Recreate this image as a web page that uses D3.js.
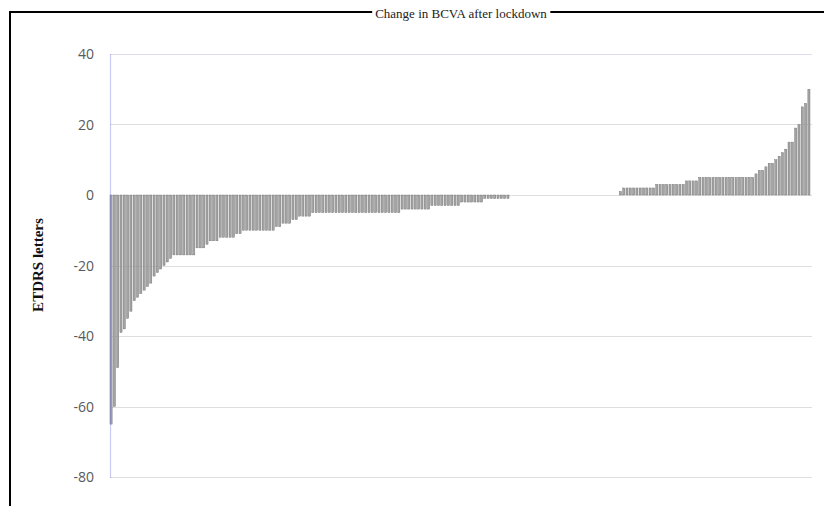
<!DOCTYPE html>
<html>
<head>
<meta charset="utf-8">
<script src="https://cdn.jsdelivr.net/npm/d3@7"></script>
<style>
  body { margin: 0; background: #fff; }
  svg { display: block; }
</style>
</head>
<body>
<svg width="824" height="506"></svg>
<script>
/*
    Change in BCVA after lockdown - sorted waterfall of eyes
*/

// runs of [value, how many eyes], sorted from worst to best
var negRuns = [
	[-65,1],[-60,1],[-49,1],[-39,1],[-38,1],[-35,1],[-33,1],[-30,1],[-29,1],[-28,1],
	[-27,1],[-26,1],[-25,1],[-23,1],[-22,1],[-21,1],[-20,1],[-19,1],[-18,1],[-17,7],
	[-15,3],[-14,1],[-13,3],[-12,5],[-11,2],[-10,10],[-9,2],[-8,3],[-7,2],[-6,4],
	[-5,27],[-4,9],[-3,9],[-2,7],[-1,8]
];
var zeroRuns = [[0,33]];
var posRuns = [
	[1,1],[2,10],[3,9],[4,4],[5,17],[6,1],[7,2],[8,1],[9,2],[10,1],[11,1],[12,1],
	[13,1],[15,2],[19,1],[20,1],[25,1],[26,1],[30,1]
];
var yTicks = [40, 20, 0, -20, -40, -60, -80];
var title = 'Change in BCVA after lockdown';
var yTitle = 'ETDRS letters';

var values = [];
function unroll(runs) {
	runs.forEach(function(r) {
		for (var k = 0; k < r[1]; k++) values.push(r[0]);
	});
}
unroll(negRuns);
unroll(zeroRuns);
unroll(posRuns);

var eyes = values.map(function(v, i){return {i:i, v:v};});

var svg = d3.select('svg');

// outer frame, cut off at the right and bottom like the picture
svg.append('rect')
	.attr('x', 10).attr('y', 12)
	.attr('width', 830).attr('height', 520)
	.style('fill', 'none')
	.style('stroke', '#000')
	.style('stroke-width', 2);

var x = d3.scaleBand()
	.domain(d3.range(values.length))
	.range([110, 810])
	.paddingInner(0.35)
	.paddingOuter(0);

var y = d3.scaleLinear()
	.domain([-80, 40])
	.range([477, 54]);

// gridlines
svg.append('g')
	.selectAll('line')
	.data(yTicks)
	.enter()
	.append('line')
	.attr('x1', 110).attr('x2', 812)
	.attr('y1', function(d){return Math.round(y(d)) + 0.5;})
	.attr('y2', function(d){return Math.round(y(d)) + 0.5;})
	.style('stroke', function(d){return d == 40 ? '#dcdcef' : '#dedede';})
	.style('stroke-width', 1.2);

// tick labels
svg.append('g')
	.selectAll('text')
	.data(yTicks)
	.enter()
	.append('text')
	.attr('x', 94)
	.attr('y', function(d){return y(d) + 5;})
	.attr('text-anchor', 'end')
	.style('font-family', 'Open Sans, Liberation Sans, sans-serif')
	.style('font-size', '14px')
	.style('fill', '#595959')
	.text(function(d){return d;});

// bars (zero change draws nothing, as in the spreadsheet)
svg.append('g')
	.selectAll('rect')
	.data(eyes.filter(function(d){return d.v != 0;}))
	.enter()
	.append('rect')
	.attr('x', function(d){return x(d.i);})
	.attr('y', function(d){return y(Math.max(0, d.v));})
	.attr('width', x.bandwidth())
	.attr('height', function(d){return Math.abs(y(d.v) - y(0));})
	.style('fill', '#a3a3a3')
	.style('stroke', '#6e6e6e')
	.style('stroke-width', 0.4);

// vertical axis line
svg.append('line')
	.attr('x1', 110.5).attr('x2', 110.5)
	.attr('y1', 54).attr('y2', 478)
	.style('stroke', '#6a6ae0')
	.style('stroke-opacity', 0.35)
	.style('stroke-width', 1.2);

// chart title sits on a white patch over the frame
var tg = svg.append('g');
var patch = tg.append('rect').style('fill', '#fff');
var t = tg.append('text')
	.attr('x', 461)
	.attr('y', 18)
	.attr('text-anchor', 'middle')
	.style('font-family', 'Liberation Serif, DejaVu Serif, serif')
	.style('font-size', '13px')
	.style('fill', '#222')
	.text(title);
var bb = t.node().getBBox();
patch.attr('x', bb.x - 3).attr('y', bb.y - 1)
	.attr('width', bb.width + 6).attr('height', bb.height + 2);

svg.append('text')
	.attr('transform', 'translate(43,265) rotate(-90)')
	.attr('text-anchor', 'middle')
	.style('font-family', 'Liberation Serif, DejaVu Serif, serif')
	.style('font-weight', 'bold')
	.style('font-size', '15px')
	.style('fill', '#111')
	.text(yTitle);
</script>
</body>
</html>
